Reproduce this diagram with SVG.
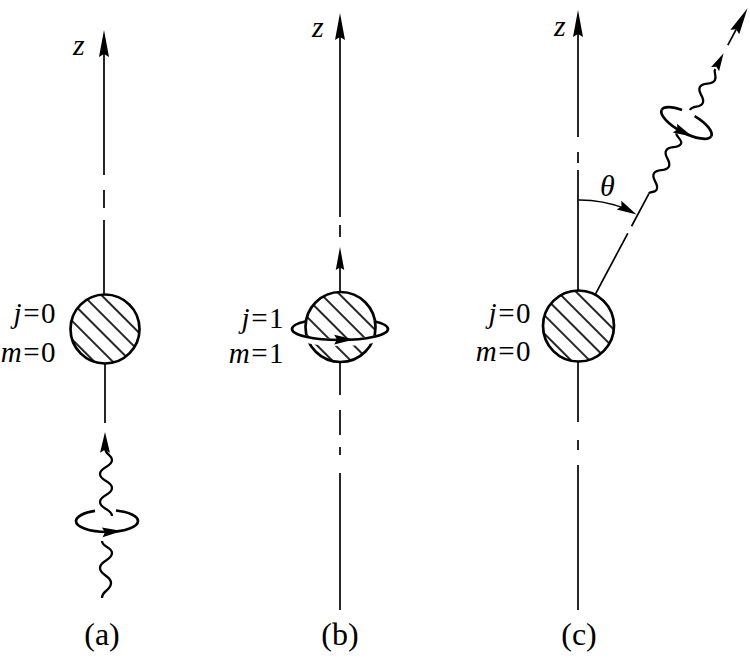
<svg xmlns="http://www.w3.org/2000/svg" width="750" height="658" viewBox="0 0 750 658">
<style>
.ax{stroke:#000;stroke-width:1.7;fill:none}
.wave{stroke:#000;stroke-width:2.3;fill:none}
.ring{stroke:#000;stroke-width:2.7;fill:none}
.halo{stroke:#fff;stroke-width:7;fill:none}
.sph{fill:url(#hatch);stroke:#000;stroke-width:2.7}
.head{fill:#000}
text{font-family:"Liberation Serif","Times New Roman",serif;fill:#000}
.lbl{font-size:29px;letter-spacing:1.5px}
.it{font-style:italic}
.cap{font-size:32px;text-anchor:middle}
</style>
<defs>
<pattern id="hatch" width="13" height="13" patternUnits="userSpaceOnUse" patternTransform="rotate(-45)">
<rect width="13" height="13" fill="#fff"/>
<line x1="6" y1="0" x2="6" y2="13" stroke="#000" stroke-width="1.7"/>
</pattern>
<path id="ah" class="head" d="M0,0 L5,27 L0,24 L-5,27 Z"/>
<path id="ahs" class="head" d="M0,0 L4.5,18 L0,15.5 L-4.5,18 Z"/>
</defs>
<rect width="750" height="658" fill="#fff"/>

<g id="connectors">
<line class="ax" x1="104" y1="50" x2="104" y2="175"/>
<line class="ax" x1="104" y1="190" x2="104" y2="208"/>
<line class="ax" x1="104" y1="220" x2="104" y2="295"/>
<line class="ax" x1="105" y1="363" x2="105" y2="423"/>
<use href="#ah" x="104" y="30"/>
<line class="ax" x1="340" y1="35" x2="340" y2="217"/>
<line class="ax" x1="340" y1="225" x2="340" y2="237"/>
<line class="ax" x1="340" y1="265" x2="340" y2="293"/>
<use href="#ah" x="340" y="13"/>
<use href="#ah" transform="translate(340,247) scale(0.85)"/>
<line class="ax" x1="340" y1="362" x2="340" y2="395"/>
<line class="ax" x1="340" y1="410" x2="340" y2="435"/>
<line class="ax" x1="340" y1="447" x2="340" y2="455"/>
<line class="ax" x1="340" y1="473" x2="340" y2="610"/>
<line class="ax" x1="578" y1="30" x2="578" y2="137"/>
<line class="ax" x1="578" y1="152" x2="578" y2="163"/>
<line class="ax" x1="578" y1="170" x2="578" y2="291"/>
<use href="#ah" x="578" y="10"/>
<line class="ax" x1="578" y1="361" x2="578" y2="422"/>
<line class="ax" x1="578" y1="440" x2="578" y2="450"/>
<line class="ax" x1="578" y1="465" x2="578" y2="610"/>
<path class="ax" d="M578.5,200 A126,126 0 0 1 625,208.5"/>
<use href="#ahs" transform="translate(636.5,214.5) rotate(118) scale(1.1)"/>
</g>

<g id="photon-a">
<use href="#ahs" transform="translate(105,432) scale(1.1,1.15)"/>
<path class="wave" d="M105,449 C106,455 112,455 112,460 C112,467 100,467 100,474 C100,481 112,481 112,488 C112,495 100,495 100,502 C100,509 112,509 112,516"/>
<path class="wave" d="M102,541 C102,547 112,547 112,553 C112,560.5 100,560.5 100,568 C100,575.5 111,575.5 111,583 C111,590.5 102,590.5 102,598"/>
<path class="ring" d="M76,521 A31,11 0 0 1 95,510.9"/>
<path class="ring" d="M116,510.5 A31,11 0 0 1 138,521"/>
<path class="ring" d="M76,521 A31,11 0 0 0 138,521"/>
<use href="#ahs" transform="translate(122,531) rotate(86) scale(1.1)"/>
</g>

<g id="node-a">
<circle class="sph" cx="105" cy="329" r="34.5"/>
<text class="lbl" x="57" y="323" text-anchor="end"><tspan class="it">j</tspan>=0</text>
<text class="lbl" x="57" y="362" text-anchor="end"><tspan class="it">m</tspan>=0</text>
</g>

<g id="node-b">
<path class="ring" d="M292,329 A48,11 0 0 1 388,329"/>
<circle class="sph" cx="340.5" cy="327" r="35"/>
<path class="halo" transform="translate(0,2.5)" d="M292,329 A48,11 0 0 0 388,329"/>
<path class="ring" d="M292,329 A48,11 0 0 0 388,329"/>
<use href="#ahs" transform="translate(354,339.6) rotate(90) scale(1.1)"/>
<text class="lbl" x="285" y="328" text-anchor="end"><tspan class="it">j</tspan>=1</text>
<text class="lbl" x="285" y="363" text-anchor="end"><tspan class="it">m</tspan>=1</text>
</g>

<g id="node-c">
<circle class="sph" cx="578.5" cy="326" r="35.5"/>
<text class="lbl" x="532" y="323" text-anchor="end"><tspan class="it">j</tspan>=0</text>
<text class="lbl" x="532" y="361" text-anchor="end"><tspan class="it">m</tspan>=0</text>
</g>

<g id="photon-c" transform="translate(578.5,326) rotate(28)">
<line class="ax" x1="0" y1="-35.5" x2="0" y2="-105"/>
<line class="ax" x1="0" y1="-113" x2="0" y2="-150"/>
<path class="wave" d="M0,-150 C0,-153 5,-153 5,-157 C5,-163.5 -5,-163.5 -5,-170 C-5,-176.5 5,-176.5 5,-183 C5,-189.5 -5,-189.5 -5,-196 C-5,-202.5 5,-202.5 5,-209 C5,-213 -3,-213 -4,-216"/>
<path class="ring" d="M-28,-230 A28,10 0 0 1 -10,-239.34"/>
<path class="ring" d="M4,-239.9 A28,10 0 0 1 28,-230"/>
<path class="ring" d="M-28,-230 A28,10 0 0 0 28,-230"/>
<use href="#ahs" transform="translate(12,-220.6) rotate(88) scale(1.1)"/>
<path class="wave" d="M-3,-243 C-3,-249 5,-249 5,-255 C5,-261.5 -5,-261.5 -5,-268 C-5,-274.5 5,-274.5 5,-281 C5,-286 0,-287 0,-291"/>
<use href="#ahs" x="0" y="-309"/>
<line class="ax" x1="0" y1="-318" x2="0" y2="-336"/>
<use href="#ah" x="0" y="-360"/>
</g>

<g id="labels">
<text class="it" x="73" y="55" font-size="30">z</text>
<text class="it" x="312" y="37" font-size="30">z</text>
<text class="it" x="554" y="36" font-size="30">z</text>
<text class="it" x="600" y="196" font-size="30">θ</text>
<text class="cap" x="102" y="645">(a)</text>
<text class="cap" x="340" y="645">(b)</text>
<text class="cap" x="579" y="645">(c)</text>
</g>
</svg>
